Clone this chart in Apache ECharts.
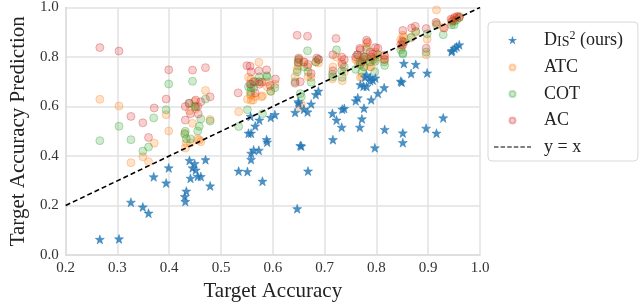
<!DOCTYPE html>
<html>
<head>
<meta charset="utf-8">
<script src="https://cdn.jsdelivr.net/npm/echarts@6/dist/echarts.min.js"></script>
<style>
html,body{margin:0;padding:0;background:#fff;}
#chart{width:640px;height:307px;}
</style>
</head>
<body>
<div id="chart"></div>
<script>
// ---- data (target accuracy, predicted accuracy) ----
const dis2Points = [
[0.266,0.063],[0.303,0.065],[0.326,0.213],[0.349,0.194],[0.360,0.169],[0.370,0.316],[0.394,0.291],[0.399,0.352],
[0.430,0.236],[0.431,0.216],[0.433,0.258],[0.439,0.382],[0.441,0.310],[0.445,0.352],[0.449,0.369],[0.451,0.343],
[0.455,0.318],[0.461,0.317],[0.470,0.385],[0.479,0.279],[0.534,0.339],[0.551,0.337],[0.553,0.492],[0.558,0.492],
[0.558,0.411],[0.558,0.386],[0.563,0.424],[0.573,0.423],[0.580,0.298],[0.557,0.560],[0.566,0.521],[0.574,0.545],
[0.588,0.466],[0.589,0.456],[0.596,0.556],[0.604,0.567],[0.643,0.576],[0.649,0.619],[0.650,0.612],[0.660,0.589],
[0.667,0.578],[0.674,0.610],[0.683,0.648],[0.688,0.662],[0.653,0.442],[0.655,0.440],[0.668,0.339],[0.647,0.187],
[0.715,0.572],[0.716,0.466],[0.723,0.545],[0.733,0.516],[0.734,0.589],[0.738,0.592],[0.760,0.623],[0.764,0.635],
[0.768,0.516],[0.772,0.550],[0.776,0.593],[0.769,0.688],[0.775,0.682],[0.781,0.681],[0.778,0.718],[0.781,0.727],
[0.788,0.718],[0.788,0.704],[0.793,0.707],[0.798,0.715],[0.790,0.627],[0.797,0.433],[0.803,0.653],[0.815,0.676],
[0.816,0.507],[0.847,0.702],[0.849,0.698],[0.851,0.493],[0.851,0.454],[0.853,0.774],[0.867,0.733],[0.876,0.770],
[0.896,0.512],[0.898,0.735],[0.916,0.492],[0.929,0.554],[0.945,0.822],[0.946,0.826],[0.951,0.835],[0.955,0.841],[0.960,0.849]
];
const atcPoints = [
[0.266,0.629],[0.303,0.602],[0.326,0.373],[0.349,0.397],[0.360,0.377],[0.371,0.452],[0.394,0.567],[0.399,0.501],
[0.430,0.492],[0.431,0.432],[0.433,0.453],[0.439,0.583],[0.441,0.453],[0.445,0.532],[0.449,0.620],[0.451,0.591],
[0.455,0.470],[0.458,0.465],[0.461,0.458],[0.470,0.665],[0.479,0.547],
[0.534,0.579],[0.551,0.629],[0.553,0.718],[0.558,0.645],[0.558,0.711],[0.558,0.625],[0.562,0.626],[0.573,0.779],
[0.578,0.639],[0.580,0.643],[0.557,0.650],[0.566,0.640],[0.574,0.700],[0.588,0.700],[0.589,0.680],[0.596,0.661],[0.604,0.690],
[0.643,0.720],[0.649,0.763],[0.650,0.790],[0.660,0.780],[0.667,0.760],[0.674,0.718],[0.683,0.780],[0.688,0.776],
[0.653,0.597],[0.655,0.610],[0.668,0.720],[0.647,0.750],
[0.715,0.711],[0.716,0.760],[0.723,0.800],[0.733,0.779],[0.734,0.704],[0.738,0.740],[0.760,0.790],[0.764,0.780],
[0.768,0.770],[0.772,0.720],[0.776,0.760],[0.769,0.718],[0.775,0.800],[0.781,0.855],[0.778,0.790],[0.781,0.840],
[0.788,0.780],[0.788,0.760],[0.793,0.800],[0.798,0.820],[0.790,0.760],[0.797,0.790],[0.803,0.800],[0.815,0.790],[0.816,0.803],
[0.847,0.870],[0.849,0.840],[0.851,0.888],[0.851,0.860],[0.853,0.880],[0.867,0.877],[0.876,0.900],[0.896,0.809],
[0.898,0.872],[0.916,0.990],[0.917,0.935],[0.929,0.919],[0.945,0.940],[0.946,0.950],[0.951,0.955],[0.955,0.960],[0.960,0.965]
];
const cotPoints = [
[0.266,0.462],[0.303,0.520],[0.326,0.466],[0.349,0.420],[0.360,0.436],[0.370,0.554],[0.394,0.587],[0.399,0.691],
[0.430,0.488],[0.431,0.500],[0.433,0.469],[0.439,0.613],[0.441,0.469],[0.445,0.702],[0.449,0.600],[0.451,0.600],
[0.455,0.501],[0.461,0.550],[0.458,0.520],[0.470,0.630],[0.479,0.541],
[0.534,0.519],[0.551,0.587],[0.553,0.680],[0.558,0.676],[0.558,0.690],[0.563,0.676],[0.573,0.700],[0.580,0.571],
[0.557,0.660],[0.566,0.700],[0.574,0.720],[0.588,0.724],[0.589,0.720],[0.596,0.662],[0.604,0.676],
[0.643,0.700],[0.649,0.776],[0.650,0.790],[0.660,0.760],[0.667,0.825],[0.674,0.698],[0.683,0.780],[0.688,0.790],
[0.653,0.652],[0.655,0.640],[0.668,0.740],[0.647,0.740],
[0.715,0.730],[0.716,0.720],[0.723,0.829],[0.733,0.744],[0.734,0.718],[0.738,0.760],[0.760,0.750],[0.764,0.809],
[0.768,0.780],[0.772,0.740],[0.776,0.760],[0.769,0.770],[0.775,0.790],[0.781,0.830],[0.778,0.800],[0.788,0.780],
[0.793,0.790],[0.798,0.783],[0.797,0.740],[0.803,0.810],[0.815,0.780],[0.816,0.766],
[0.847,0.830],[0.851,0.812],[0.851,0.816],[0.853,0.860],[0.867,0.880],[0.876,0.904],[0.896,0.820],[0.898,0.894],
[0.916,0.930],[0.929,0.890],[0.945,0.930],[0.950,0.930],[0.951,0.945],[0.955,0.950],[0.960,0.960]
];
const acPoints = [
[0.266,0.838],[0.303,0.824],[0.326,0.560],[0.349,0.534],[0.360,0.475],[0.371,0.594],[0.394,0.630],[0.399,0.748],
[0.431,0.600],[0.431,0.545],[0.438,0.613],[0.441,0.571],[0.445,0.747],[0.451,0.626],[0.456,0.570],[0.461,0.619],
[0.455,0.600],[0.470,0.757],[0.479,0.639],
[0.533,0.655],[0.550,0.765],[0.556,0.763],[0.556,0.691],[0.566,0.655],[0.573,0.744],[0.579,0.698],[0.588,0.748],
[0.595,0.685],[0.605,0.711],[0.558,0.740],[0.563,0.700],[0.574,0.690],
[0.647,0.888],[0.667,0.884],[0.643,0.694],[0.650,0.796],[0.660,0.780],[0.674,0.733],[0.685,0.796],[0.688,0.790],
[0.653,0.700],[0.668,0.770],[0.649,0.780],
[0.716,0.809],[0.716,0.744],[0.722,0.875],[0.733,0.800],[0.734,0.770],[0.738,0.790],[0.760,0.800],[0.768,0.835],
[0.763,0.809],[0.769,0.829],[0.772,0.780],[0.776,0.800],[0.781,0.868],[0.783,0.860],[0.788,0.820],[0.793,0.812],
[0.798,0.838],[0.803,0.835],[0.815,0.807],[0.816,0.790],[0.790,0.800],
[0.847,0.850],[0.850,0.864],[0.851,0.907],[0.851,0.849],[0.868,0.917],[0.875,0.924],[0.896,0.835],[0.896,0.915],
[0.915,0.940],[0.931,0.917],[0.944,0.953],[0.951,0.960],[0.956,0.964],[0.960,0.960],[0.947,0.945]
];
const identityLine = [0.2, 1.0];
const seriesNames = ['Dis2', 'ATC', 'COT', 'AC', 'y = x'];

const FONT = '"Liberation Serif", "DejaVu Serif", serif';
const STAR = 'path://M0,-10 L2.35,-3.24 L9.51,-3.09 L3.8,1.24 L5.88,8.09 L0,4 L-5.88,8.09 L-3.8,1.24 L-9.51,-3.09 L-2.35,-3.24 Z';
// same star with an enlarged, invisible bounding box so it draws smaller in the legend
const STAR_LEGEND = 'path://M-17,-17 L-17,-17 Z M17,17 L17,17 Z M0,-10 L2.35,-3.24 L9.51,-3.09 L3.8,1.24 L5.88,8.09 L0,4 L-5.88,8.09 L-3.8,1.24 L-9.51,-3.09 L-2.35,-3.24 Z';
const DASH = 'path://M0,0 H4.5 V1 H0 Z M6.6,0 H11.1 V1 H6.6 Z M13.2,0 H17.7 V1 H13.2 Z M19.8,0 H24.3 V1 H19.8 Z M26.4,0 H30.9 V1 H26.4 Z M33,0 H37 V1 H33 Z';

function circleSeries(name, data, rgb) {
  return {
    name: name, type: 'scatter', data: data, symbol: 'circle', symbolSize: 8,
    itemStyle: { color: 'rgba(' + rgb + ',0.28)', borderColor: 'rgba(' + rgb + ',0.4)', borderWidth: 1 }
  };
}

const chart = echarts.init(document.getElementById('chart'), null, {renderer: 'canvas'});
chart.setOption({
  animation: false,
  backgroundColor: '#fff',
  grid: { left: 53, right: 160, top: 5, bottom: 48 },
  xAxis: {
    type: 'value', min: 0.2, max: 1.0, interval: 0.1,
    name: 'Target Accuracy', nameLocation: 'middle', nameGap: 26,
    nameTextStyle: { fontFamily: FONT, fontSize: 21, color: '#222' },
    axisLine: { show: true, lineStyle: { color: '#dcdcdc', width: 1.5 } },
    axisTick: { show: false },
    axisLabel: { fontFamily: FONT, fontSize: 15, color: '#333', margin: 6, formatter: v => v.toFixed(1) },
    splitLine: { show: true, lineStyle: { color: '#e2e2e2', width: 1.5 } }
  },
  yAxis: {
    type: 'value', min: 0, max: 1.0, interval: 0.2,
    name: 'Target Accuracy Prediction', nameLocation: 'middle', nameGap: 25,
    nameTextStyle: { fontFamily: FONT, fontSize: 21, color: '#222' },
    axisLine: { show: true, lineStyle: { color: '#dcdcdc', width: 1.5 } },
    axisTick: { show: false },
    axisLabel: { fontFamily: FONT, fontSize: 15, color: '#333', margin: 7, formatter: v => v.toFixed(1) },
    splitLine: { show: true, lineStyle: { color: '#e2e2e2', width: 1.5 } }
  },
  legend: {
    orient: 'vertical', left: 488, top: 22,
    padding: [8, 15, 4, 6], itemGap: 6.5, itemWidth: 37, itemHeight: 6,
    backgroundColor: '#fff', borderColor: '#d8d8d8', borderWidth: 1, borderRadius: 4,
    data: [
      { name: seriesNames[0], icon: STAR_LEGEND },
      { name: seriesNames[1], icon: 'circle' },
      { name: seriesNames[2], icon: 'circle' },
      { name: seriesNames[3], icon: 'circle' },
      { name: seriesNames[4], icon: DASH }
    ],
    formatter: function (name) {
      if (name === 'Dis2') return '{n|D}{s|IS}{sup|2}{n| (ours)}';
      return '{n|' + name + '}';
    },
    textStyle: {
      fontFamily: FONT, fontSize: 18, color: '#222', lineHeight: 20, padding: [0, 0, 0, 8],
      rich: {
        n: { fontFamily: FONT, fontSize: 18, color: '#222', lineHeight: 20 },
        s: { fontFamily: FONT, fontSize: 14, color: '#222', lineHeight: 20, padding: [3, 0, 0, 0] },
        sup: { fontFamily: FONT, fontSize: 12, color: '#222', lineHeight: 20, padding: [0, 0, 9, 0] }
      }
    }
  },
  series: [
    {
      name: 'Dis2', type: 'scatter', data: dis2Points, symbol: STAR, symbolSize: 9, z: 3,
      itemStyle: { color: '#1f77b4', borderColor: '#2a78b8', borderWidth: 0.6 }
    },
    circleSeries('ATC', atcPoints, '255,127,14'),
    circleSeries('COT', cotPoints, '44,160,44'),
    circleSeries('AC', acPoints, '214,39,40'),
    {
      name: 'y = x', type: 'line', symbol: 'none', showSymbol: false, z: 5,
      data: [[identityLine[0], identityLine[0]], [identityLine[1], identityLine[1]]],
      itemStyle: { color: '#000' },
      lineStyle: { color: '#000', width: 1.6, type: [5, 3] }
    }
  ]
});
</script>
</body>
</html>
